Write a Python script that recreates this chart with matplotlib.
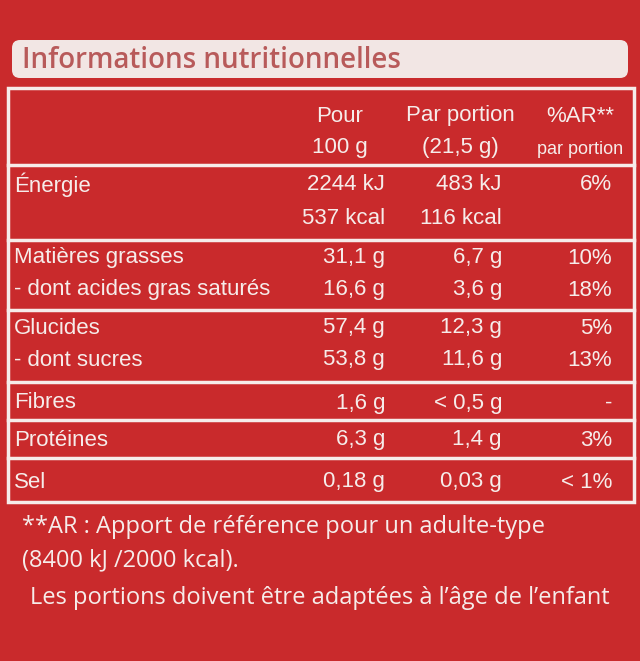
import matplotlib.pyplot as plt
from matplotlib.patches import FancyBboxPatch, Rectangle

plt.rcParams['font.family'] = ['Liberation Sans', 'DejaVu Sans']

# Table contents
nutrients = ["Énergie", "", "Matières grasses", "- dont acides gras saturés",
             "Glucides", "- dont sucres", "Fibres", "Protéines", "Sel"]
per_100g = ["2244 kJ", "537 kcal", "31,1 g", "16,6 g", "57,4 g", "53,8 g",
            "1,6 g", "6,3 g", "0,18 g"]
per_portion = ["483 kJ", "116 kcal", "6,7 g", "3,6 g", "12,3 g", "11,6 g",
               "< 0,5 g", "1,4 g", "0,03 g"]
ar_portion = ["6%", "", "10%", "18%", "5%", "13%", "-", "3%", "< 1%"]
row_y = [185, 218, 258, 290, 328, 360, 403, 440, 482]
group_lines = [165, 240, 310, 382, 420, 458]

red = "#c92a2c"
white = "#f6ecea"

fig = plt.figure(figsize=(6.4, 6.61), dpi=100)
fig.patch.set_facecolor(red)
ax = fig.add_axes([0, 0, 1, 1])
ax.set_xlim(0, 640)
ax.set_ylim(661, 0)
ax.axis("off")

# Title band
ax.add_patch(FancyBboxPatch((12, 40), 616, 38, boxstyle="round,pad=0,rounding_size=8",
                            facecolor="#f2e6e4", edgecolor="none"))
ax.text(22, 61, "Informations nutritionnelles", color="#b85a5a", fontsize=20,
        va="center", ha="left", family=["Open Sans", "DejaVu Sans"], fontweight="semibold")

# Table frame
ax.add_patch(Rectangle((8, 88), 626, 414, facecolor="none", edgecolor=white, lw=2.5))
for y in group_lines:
    ax.plot([8, 634], [y, y], color=white, lw=2.5)

# Column headers
hdr = dict(color=white, fontsize=16, ha="center", va="center")
ax.text(340, 116, "Pour", **hdr)
ax.text(340, 148, "100 g", **hdr)
ax.text(460, 116, "Par portion", **hdr)
ax.text(460, 148, "(21,5 g)", **hdr)
ax.text(580, 116, "%AR**", **hdr)
ax.text(580, 150, "par portion", color=white, fontsize=13, ha="center", va="center")

cell = dict(color=white, fontsize=16, va="center")
for y, n, a, b, c in zip(row_y, nutrients, per_100g, per_portion, ar_portion):
    ax.text(14, y, n, ha="left", **cell)
    ax.text(385, y, a, ha="right", **cell)
    ax.text(502, y, b, ha="right", **cell)
    ax.text(612, y, c, ha="right", **cell)

# Footer
foot = dict(color=white, fontsize=17, ha="left", va="center",
            family=["Open Sans", "DejaVu Sans"])
ax.text(22, 527, "**AR : Apport de référence pour un adulte-type", **foot)
ax.text(22, 560, "(8400 kJ /2000 kcal).", **foot)
ax.text(30, 598, "Les portions doivent être adaptées à l’âge de l’enfant", **foot)

fig.savefig("out.png", dpi=100, facecolor=red)
